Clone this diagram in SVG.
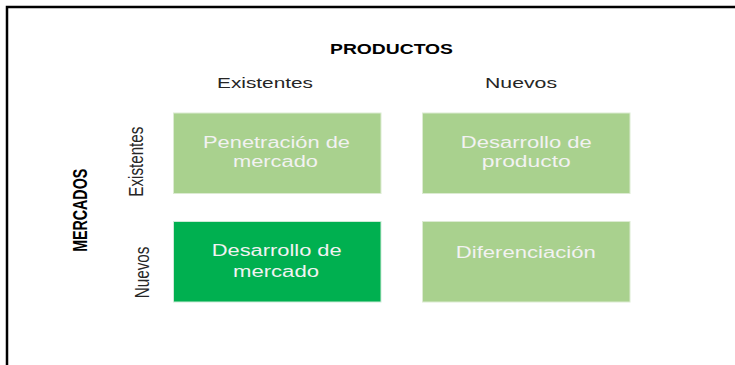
<svg xmlns="http://www.w3.org/2000/svg" width="735" height="365" viewBox="0 0 735 365">
  <style>
    .frame { fill: none; stroke: #000; stroke-width: 2.5; }
    .light { fill: #A9D18E; stroke: #DCEBD2; stroke-width: 1; }
    .dark { fill: #00B050; stroke: #CDEBD7; stroke-width: 1; }
    .box-text { font-family: "Liberation Sans", Arial, sans-serif; font-size: 16px; fill: #F2F2F2; text-anchor: middle; }
    .head { font-family: "Liberation Sans", Arial, sans-serif; font-size: 15px; fill: #262626; text-anchor: middle; }
    .bold { font-weight: bold; fill: #000; }
  </style>
  <rect width="735" height="365" fill="#FFFFFF"/>
  <path class="frame" d="M7,366 V7 H736"/>

  <g id="headers">
    <text class="head bold" x="391.5" y="54" textLength="123" lengthAdjust="spacingAndGlyphs">PRODUCTOS</text>
    <text class="head" x="265" y="88" textLength="96" lengthAdjust="spacingAndGlyphs">Existentes</text>
    <text class="head" x="521" y="88" textLength="72" lengthAdjust="spacingAndGlyphs">Nuevos</text>
    <text class="head bold" transform="translate(87.3,210.3) scale(1.33,1) rotate(-90)" x="0" y="0" font-size="14" textLength="83" lengthAdjust="spacingAndGlyphs">MERCADOS</text>
    <text class="head" transform="translate(142.7,161.7) scale(1.33,1) rotate(-90)" x="0" y="0" textLength="70" lengthAdjust="spacingAndGlyphs">Existentes</text>
    <text class="head" transform="translate(149.3,272.5) scale(1.33,1) rotate(-90)" x="0" y="0" textLength="51.6" lengthAdjust="spacingAndGlyphs">Nuevos</text>
  </g>

  <g id="penetracion-mercado">
    <rect class="light" x="173.5" y="113" width="207.5" height="80.5"/>
    <text class="box-text" x="276.5" y="148" textLength="147" lengthAdjust="spacingAndGlyphs">Penetración de</text>
    <text class="box-text" x="275.5" y="167" textLength="85" lengthAdjust="spacingAndGlyphs">mercado</text>
  </g>

  <g id="desarrollo-producto">
    <rect class="light" x="422.5" y="113" width="207.5" height="80.5"/>
    <text class="box-text" x="526.3" y="147.7" textLength="131" lengthAdjust="spacingAndGlyphs">Desarrollo de</text>
    <text class="box-text" x="526.3" y="167" textLength="89" lengthAdjust="spacingAndGlyphs">producto</text>
  </g>

  <g id="desarrollo-mercado">
    <rect class="dark" x="173.5" y="221.5" width="207.5" height="80.5"/>
    <text class="box-text" x="276.7" y="256" textLength="130" lengthAdjust="spacingAndGlyphs">Desarrollo de</text>
    <text class="box-text" x="276" y="276.7" textLength="86" lengthAdjust="spacingAndGlyphs">mercado</text>
  </g>

  <g id="diferenciacion">
    <rect class="light" x="422.5" y="221.5" width="207.5" height="80.5"/>
    <text class="box-text" x="525.8" y="258.3" textLength="140" lengthAdjust="spacingAndGlyphs">Diferenciación</text>
  </g>
</svg>
